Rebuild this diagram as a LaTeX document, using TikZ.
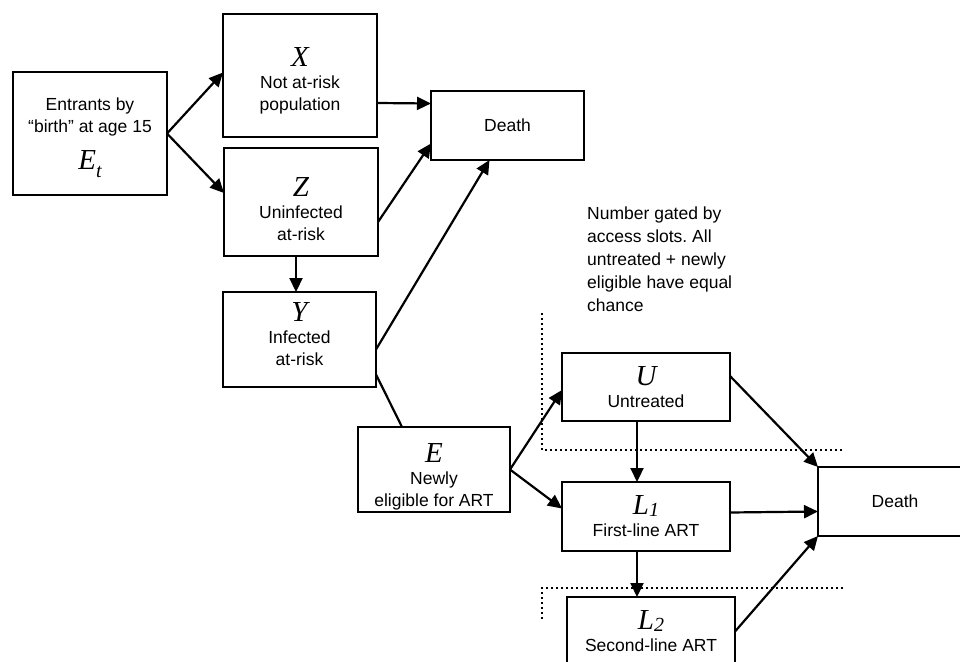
\documentclass[tikz,border=0pt]{standalone}
\usepackage{fontspec}
\setmainfont{Liberation Sans}
\newfontfamily\varfont{Liberation Serif}
\usetikzlibrary{arrows.meta}
\frenchspacing

\newcommand{\popvar}[1]{{\varfont\itshape\fontsize{29}{29}\selectfont #1}}
\newcommand{\lowsub}[2]{\raisebox{#1}{\fontsize{20}{20}\selectfont #2}}
\newcommand{\padtop}[1]{\rule{0pt}{#1}}
\newcommand{\padlow}[1]{\rule[-#1]{0pt}{#1}}

\begin{document}
\begin{tikzpicture}[x=1pt,y=-1pt,
  box/.style={rectangle,draw=black,line width=2.8pt,inner sep=0pt,outer sep=0pt,
    align=center,font=\fontsize{17.5}{22}\selectfont},
  flow/.style={line width=2.2pt,-{Triangle[length=14pt,width=13pt]}},
  link/.style={line width=2.2pt},
  slots/.style={line width=2.2pt,dash pattern=on 2pt off 3pt}]
  \clip (0,0) rectangle (960,661);

  % compartiments
  \node[box,minimum width=154pt,minimum height=123pt] (Et) at (90,133.5)
    {\padtop{21pt}Entrants by\\``birth'' at age 15\\[13pt]\popvar{E\lowsub{-8pt}{t}}};
  \node[box,minimum width=154pt,minimum height=123pt] (X) at (300,75.5)
    {\padtop{29pt}\popvar{X}\\Not at-risk\\population};
  \node[box,minimum width=154pt,minimum height=108pt] (Z) at (301,202)
    {\padtop{33pt}\popvar{Z}\\Uninfected\\at-risk};
  \node[box,minimum width=153pt,minimum height=95pt] (Y) at (299.5,339.5)
    {\popvar{Y}\\Infected\\at-risk\padlow{10pt}};
  \node[box,minimum width=153pt,minimum height=69pt] (D1) at (507.5,125.5) {Death};
  \node[box,minimum width=152pt,minimum height=85pt] (E) at (434,469.5)
    {\padtop{33pt}\popvar{E}\\Newly\\eligible for ART};
  \node[box,minimum width=168pt,minimum height=68pt] (U) at (646,387)
    {\popvar{U}\\Untreated};
  \node[box,minimum width=168pt,minimum height=69pt] (L1) at (646,516.5)
    {\popvar{L\lowsub{-2pt}{1}}\\First-line ART};
  \node[box,minimum width=168pt,minimum height=69pt] (L2) at (651,631.5)
    {\popvar{L\lowsub{-2pt}{2}}\\Second-line ART};
  \node[box,minimum width=154pt,minimum height=69pt] (D2) at (895,501.5) {Death};

  % note
  \node[anchor=north west,inner sep=0pt,align=left,font=\fontsize{17.5}{23}\selectfont] (note) at (587,207)
    {Number gated by\\access slots. All\\untreated + newly\\eligible have equal\\chance};

  % flux
  \draw[flow] (Et.east) -- ([yshift=3pt]X.west);
  \draw[flow] (Et.east) -- ([yshift=9pt]Z.west);
  \draw[flow] (X.east |- 0,103) -- ([yshift=22pt]D1.west);
  \draw[flow] ([yshift=-20pt]Z.east) -- ([yshift=-18pt]D1.west);
  \draw[flow] ([xshift=-5pt]Z.south) -- ([xshift=-5pt]Z.south |- Y.north);
  \draw[flow] ([yshift=-10pt]Y.east) -- ([xshift=-18pt]D1.south);
  \draw[link] ([yshift=-35pt]Y.east) -- ([xshift=-32pt]E.north);
  \draw[flow] (E.east) -- ([yshift=-3pt]U.west);
  \draw[flow] (E.east) -- ([yshift=8pt]L1.west);
  \draw[flow] ([xshift=-9pt]U.south) -- ([xshift=-9pt]L1.north);
  \draw[flow] ([xshift=-9pt]L1.south) -- ([xshift=-9pt]L1.south |- L2.north);
  \draw[flow] ([yshift=11pt]U.east) -- (D2.north west);
  \draw[flow] ([yshift=4pt]L1.east) -- ([yshift=-10pt]D2.west);
  \draw[flow] (L2.east) -- (D2.south west);

  % limites des places
  \draw[slots] (542,313) -- (542,450) -- (843,450);
  \draw[slots] (843,588) -- (542,588) -- (542,620);
\end{tikzpicture}
\end{document}
